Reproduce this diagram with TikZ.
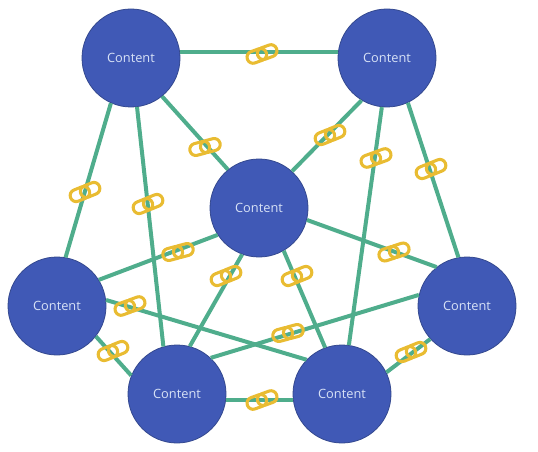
\documentclass[tikz,border=0pt]{standalone}
\usepackage{fontspec}
\setmainfont{Open Sans}
\definecolor{hub}{HTML}{4059B6}
\definecolor{hubedge}{HTML}{34498F}
\definecolor{wire}{HTML}{4FAD8C}
\definecolor{chain}{HTML}{E9BC32}
\definecolor{hubtext}{HTML}{D8E2F6}
\tikzset{
  hubnode/.style={circle,fill=hub,draw=hubedge,line width=0.6pt,minimum size=73.5pt,inner sep=0pt,text=hubtext,font=\fontsize{9.6}{11}\selectfont},
  wireline/.style={draw=wire,line width=3pt},
  chainring/.style={draw=chain,line width=2.3pt,rounded corners=4.4pt},
  pics/chainlink/.style={code={
    \draw[chainring] (-15.5,-6) rectangle (4.5,6);
    \draw[chainring] (-4.5,-6) rectangle (15.5,6);
  }}
}
\begin{document}
\begin{tikzpicture}[x=0.75pt,y=-0.75pt]
\useasboundingbox (0,0) rectangle (538,452);
\node[hubnode] (A) at (131,58) {Content};
\node[hubnode] (B) at (387,58) {Content};
\node[hubnode] (C) at (259,208) {Content};
\node[hubnode] (D) at (57,306) {Content};
\node[hubnode] (E) at (467,306) {Content};
\node[hubnode] (F) at (177,394) {Content};
\node[hubnode] (G) at (342,394) {Content};
\foreach \p/\q in {A.7/B.173,A.-51/C.129,A.-114/D.80,A.-83/F.106,B.-121/C.48,B.-65/E.100,B.-96/G.82,
  C.213/D.32,C.-14/E.128,C.-110/F.75,C.-60/G.110,D.7/G.136,D.-38/F.158,E.167/F.47,E.-138/G.26,F.-7/G.187}
  \path[wireline] (\p) -- (\q);
\foreach \x/\y/\a/\n in {262/54/20/a,205/147/15/b,330/135/22/c,376/158/20/d,431/169/22/e,85/192/22/f,148/204/22/g,178/252/15/h,226/276/22/i,297/276/22/j,394/252/18/k,130/306/20/l,113/351/22/m,288/333/15/n,411/352/22/o,262/400/20/p}
  \pic[rotate=\a] (link\n) at (\x,\y) {chainlink};
\end{tikzpicture}
\end{document}
